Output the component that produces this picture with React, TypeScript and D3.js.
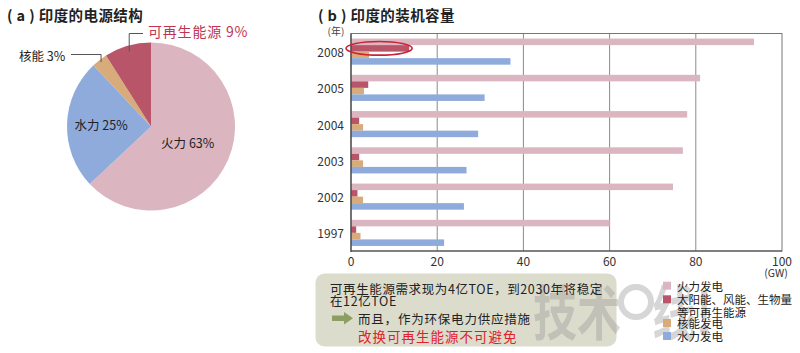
import * as d3 from "d3";

// pie: India power mix (%)
const mixNames = ["火力", "水力", "核能", "可再生能源"];
const mixValues = [63, 25, 3, 9];

// bars: installed capacity (GW)
const years = ["2008", "2005", "2004", "2003", "2002", "1997"];
const seriesNames = ["火力发电", "太阳能、风能、生物量等可再生能源", "核能发电", "水力发电"];
const thermal = [93.5, 81, 78, 77, 74.7, 60];
const renewable = [13.5, 4, 1.9, 1.9, 1.5, 1.2];
const nuclear = [4.2, 3, 2.8, 2.8, 2.8, 2.2];
const hydro = [37, 31, 29.5, 26.8, 26.2, 21.6];
const xTicks = [0, 20, 40, 60, 80, 100];

const colors = ["#dbb6c1", "#b85569", "#d8ab7b", "#8eabdc"];
const pieColors = [colors[0], colors[3], colors[2], colors[1]];

const FONT = "'Noto Sans CJK SC', 'Noto Sans', sans-serif";

export default function App() {
  const W = 800;
  const H = 353;

  // ---- pie ----
  const cx = 151;
  const cy = 126.5;
  const r = 84;
  const pie = d3.pie<number>().sort(null).value((d) => d);
  const arcs = pie(mixValues);
  const arc = d3.arc<d3.PieArcDatum<number>>().innerRadius(0).outerRadius(r);
  const pointAt = (a: d3.PieArcDatum<number>, rr: number) => {
    const m = (a.startAngle + a.endAngle) / 2;
    return [cx + Math.sin(m) * rr, cy - Math.cos(m) * rr];
  };
  const fire = pointAt(arcs[0], 40);
  const water = pointAt(arcs[1], 50);
  const nukePt = pointAt(arcs[2], r * 0.97);
  const renPt = pointAt(arcs[3], r * 0.93);

  // ---- bars ----
  const x = d3.scaleLinear().domain([0, 100]).range([351, 782]);
  const y = d3.scaleBand().domain(years).range([33.5, 251]).paddingInner(0.28).paddingOuter(0.14);
  const inner = d3.scaleBand().domain(["0", "1", "2", "3"]).range([0, y.bandwidth()]);
  const series = [thermal, renewable, nuclear, hydro];

  const ellY = (y("2008") ?? 0) + (inner("1") ?? 0) + inner.bandwidth() / 2;
  const ellCx = (x(0) + x(renewable[0])) / 2 - 1;
  const ellRx = (x(renewable[0]) - x(0)) / 2 + 4;

  const legendRows = [
    { c: colors[0], t: ["火力发电"] },
    { c: colors[1], t: ["太阳能、风能、生物量", "等可再生能源"] },
    { c: colors[2], t: ["核能发电"] },
    { c: colors[3], t: ["水力发电"] },
  ];
  const legendY = [285.7, 299.3, 323, 336];

  return (
    <svg width={W} height={H} style={{ position: "absolute", left: 0, top: 0, background: "#fff" }} fontFamily={FONT}>
      <rect width={W} height={H} fill="#fff" />

      {/* (a) */}
      <text x={7} y={21} fontSize={14.5} fontWeight={600} fill="#222" letterSpacing={0.4}>
        ( a ) 印度的电源结构
      </text>
      {arcs.map((a, i) => (
        <path key={i} d={arc(a) ?? ""} transform={`translate(${cx},${cy})`} fill={pieColors[i]} />
      ))}
      <text x={fire[0]} y={fire[1]} fontSize={12.5} fill="#222" textAnchor="middle" dominantBaseline="central">
        {mixNames[0]} {mixValues[0]}%
      </text>
      <text x={water[0]} y={water[1]} fontSize={12.5} fill="#222" textAnchor="middle" dominantBaseline="central">
        {mixNames[1]} {mixValues[1]}%
      </text>
      <polyline points={`71,54.5 ${nukePt[0]},54.5 ${nukePt[0]},${nukePt[1]}`} fill="none" stroke="#555" strokeWidth={1} />
      <text x={19} y={55} fontSize={12.5} fill="#222" dominantBaseline="central">
        {mixNames[2]} {mixValues[2]}%
      </text>
      <polyline points={`143,33.5 ${renPt[0]},33.5 ${renPt[0]},${renPt[1]}`} fill="none" stroke="#555" strokeWidth={1} />
      <text x={148} y={31} fontSize={14} fill="#c03550" dominantBaseline="central" letterSpacing={0.8}>
        {mixNames[3]} {mixValues[3]}%
      </text>

      {/* (b) */}
      <text x={318} y={21} fontSize={14.5} fontWeight={600} fill="#222" letterSpacing={0.4}>
        ( b ) 印度的装机容量
      </text>
      <text x={336} y={35} fontSize={10} fill="#444" textAnchor="middle">
        (年)
      </text>
      {xTicks.slice(1, -1).map((t) => (
        <line key={t} x1={x(t)} x2={x(t)} y1={33.5} y2={251} stroke="#8a8a8a" strokeWidth={1} />
      ))}
      {years.map((yr, gi) =>
        series.map((s, si) => (
          <rect
            key={yr + si}
            x={x(0)}
            y={(y(yr) ?? 0) + (inner(String(si)) ?? 0)}
            width={x(s[gi]) - x(0)}
            height={inner.bandwidth()}
            fill={colors[si]}
          />
        ))
      )}
      <rect x={x(0)} y={33.5} width={x(100) - x(0)} height={251 - 33.5} fill="none" stroke="#777" strokeWidth={1} />
      <line x1={x(0)} x2={x(0)} y1={33.5} y2={252} stroke="#444" strokeWidth={1.2} />
      <line x1={x(0)} x2={x(100)} y1={251} y2={251} stroke="#444" strokeWidth={1.2} />
      <ellipse cx={ellCx} cy={ellY} rx={ellRx} ry={6.8} fill="none" stroke="#cc2233" strokeWidth={1.6} />
      {years.map((yr) => (
        <text key={yr} x={344} y={(y(yr) ?? 0) + y.bandwidth() / 2} fontSize={12} fill="#333" textAnchor="end" dominantBaseline="central">
          {yr}
        </text>
      ))}
      {xTicks.map((t) => (
        <text key={t} x={x(t)} y={260} fontSize={12} fill="#333" textAnchor="middle" dominantBaseline="central">
          {t}
        </text>
      ))}
      <text x={776} y={272} fontSize={10.5} fill="#333" textAnchor="middle" dominantBaseline="central">
        (GW)
      </text>

      {/* note box */}
      <rect x={315.5} y={273.5} width={301} height={73} rx={9} fill="#dcdccd" />

      {/* faint watermark */}
      <g fill="#9a9a9a" opacity={0.4}>
        <text x={533} y={330} fontSize={44} fontWeight={700} transform="translate(0,-110) scale(1,1.35)">
          技术
        </text>
        <circle cx={636} cy={302} r={15} fill="none" stroke="#9a9a9a" strokeWidth={6} />
        <text x={652} y={330} fontSize={44} fontWeight={700} transform="translate(0,-110) scale(1,1.35)">
          线!
        </text>
      </g>

      <text x={330} y={288.5} fontSize={12.5} fill="#222" dominantBaseline="central" letterSpacing={0.6}>
        可再生能源需求现为4亿TOE，到2030年将稳定
      </text>
      <text x={330} y={300.8} fontSize={12.5} fill="#222" dominantBaseline="central" letterSpacing={0.6}>
        在12亿TOE
      </text>
      <path d="M332,315.5 L344,315.5 L344,312 L353,318.3 L344,324.5 L344,321 L332,321 Z" fill="#8c9e62" />
      <text x={358} y={318.3} fontSize={12.5} fill="#222" dominantBaseline="central" letterSpacing={0.8}>
        而且，作为环保电力供应措施
      </text>
      <text x={358} y={336} fontSize={13.5} fill="#e0202a" dominantBaseline="central" letterSpacing={1}>
        改换可再生能源不可避免
      </text>

      {/* legend */}
      {legendRows.map((row, i) => (
        <g key={i}>
          <rect x={663} y={legendY[i] - 4} width={8} height={8} fill={row.c} />
          {row.t.map((t, j) => (
            <text key={j} x={677} y={legendY[i] + j * 12.4} fontSize={11.5} fill="#222" dominantBaseline="central">
              {t}
            </text>
          ))}
        </g>
      ))}
      <title>{seriesNames.join(" / ")}</title>
    </svg>
  );
}
